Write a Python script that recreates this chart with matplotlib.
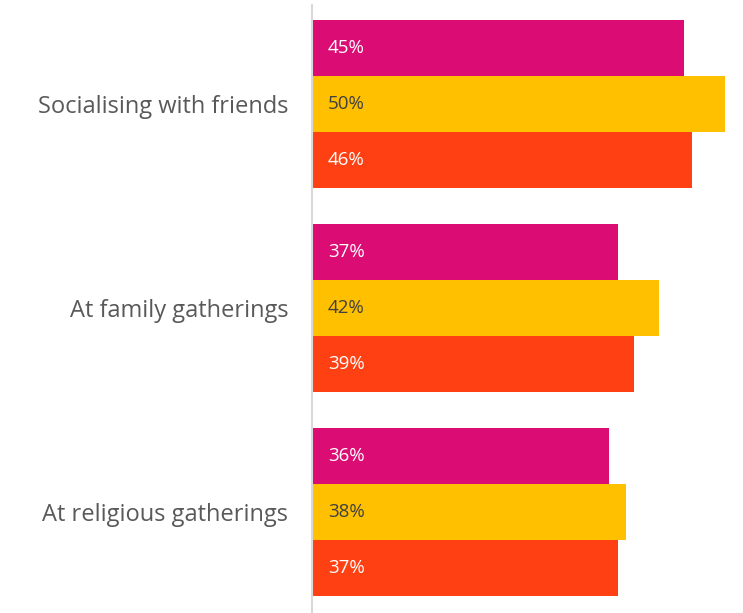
import numpy as np
import matplotlib.pyplot as plt

plt.rcParams['font.family'] = ['Open Sans', 'DejaVu Sans']

categories = ['Socialising with friends', 'At family gatherings', 'At religious gatherings']
series_a = [45, 37, 36]
series_b = [50, 42, 38]
series_c = [46, 39, 37]

colors = ['#DB0C73', '#FFC000', '#FF4013']
label_colors = ['white', '#404040', 'white']

fig = plt.figure(figsize=(7.43, 6.13), dpi=100)
ax = fig.add_axes([312 / 743, 0, 1 - 312 / 743, 608 / 613])

y = np.arange(len(categories))
h = 56 / 204
for k, (vals, c, lc) in enumerate(zip([series_a, series_b, series_c], colors, label_colors)):
    pos = y + (k - 1) * h
    ax.barh(pos, vals, height=h, color=c, edgecolor='none')
    for p, v in zip(pos, vals):
        ax.text(1.9, p, f'{v}%', va='center', ha='left', color=lc, fontsize=13.5)

ax.set_xlim(0, 431 / 8.26)
top = -99 / 204
ax.set_ylim(top + 608 / 204, top)

ax.set_yticks(y)
ax.set_yticklabels(categories, fontsize=17, color='#595959')
ax.tick_params(axis='y', length=0, pad=17)
ax.set_xticks([])
for s in ['top', 'right', 'bottom']:
    ax.spines[s].set_visible(False)
ax.spines['left'].set_color('#D9D9D9')
ax.spines['left'].set_linewidth(1.5)

fig.savefig('out.png', dpi=100)
